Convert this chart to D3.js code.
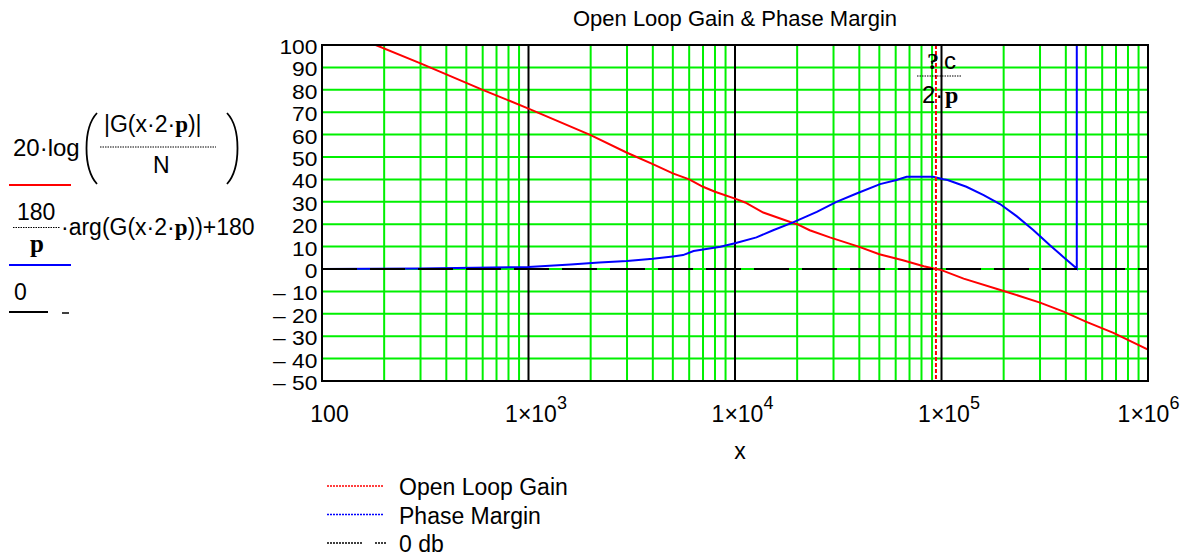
<!DOCTYPE html>
<html><head><meta charset="utf-8">
<script src="https://cdn.jsdelivr.net/npm/d3@7"></script>
<style>
html,body{margin:0;padding:0;background:#fff;}
svg{display:block;font-family:"Liberation Sans",Arial,sans-serif;}
</style></head><body>
<svg id="chart" width="1192" height="558"></svg>
<script>
// Open-loop gain, 20*log(|G|/N) in dB, against frequency x in Hz
const gainFreq = [182, 300, 600, 1000, 2000, 3000, 4000, 5000, 6000, 7000, 8000, 10000, 11200, 13700, 18500, 20000, 23000, 28800, 40000, 50000, 65000, 82000, 94000, 100000, 128000, 200000, 300000, 390000, 500000, 680000, 1000000];
const gainDb   = [100, 91.8, 80, 71.6, 59.8, 51.9, 46.8, 42.7, 40, 36.7, 34.5, 31.4, 29.7, 25.2, 21.0, 20.0, 17.3, 14.1, 9.9, 6.6, 3.9, 1.25, 0, -0.5, -4.3, -9.8, -15, -19, -23.5, -28.5, -36];

// Phase margin, 180/pi*arg(G)+180 in degrees; wraps past +180 above ~452 kHz
const phaseFreq = [100, 300, 1000, 1600, 2200, 3000, 4000, 5000, 5600, 6300, 8500, 10000, 12700, 15300, 19100, 24900, 31000, 38800, 50400, 60600, 67800, 91000, 102000, 107000, 132000, 160000, 192000, 231000, 279000, 335000, 389000, 452000, 452000];
const phaseDeg  = [0, 0.2, 0.9, 2.0, 2.9, 3.6, 4.6, 5.6, 6.2, 8.0, 9.9, 11.5, 14.1, 17.3, 20.8, 25.5, 30, 33.7, 37.9, 39.7, 41.2, 41.2, 40.1, 39.7, 36.7, 33, 29, 23.6, 17.3, 10.6, 5.4, 0.2, 360];

// 0 dB reference trace
const zeroFreq = [100, 1000000];
const zeroDb   = [0, 0];

// gain crossover frequency, wc/(2*pi)
const crossoverFreq = 94000;

const yTicks = [100, 90, 80, 70, 60, 50, 40, 30, 20, 10, 0, -10, -20, -30, -40, -50];
const xTicks = [100, 1e3, 1e4, 1e5, 1e6];
const xTickBase = ["100", "1\u00d710", "1\u00d710", "1\u00d710", "1\u00d710"];
const xTickExp  = ["", "3", "4", "5", "6"];
const legendLabels = ["Open Loop Gain", "Phase Margin", "0 db"];
const legendColors = ["#ff0000", "#0000ff", "#000000"];

const svg = d3.select("#chart");
const L = 322, R = 1148, T = 45, B = 381;
const x = d3.scaleLog().domain([100, 1e6]).range([L, R]);
const y = d3.scaleLinear().domain([-50, 100]).range([B, T]);
const FS = 23;
const GREEN = "#00f000";

// title
svg.append("text").attr("x", (L + R) / 2).attr("y", 26)
  .attr("text-anchor", "middle").attr("font-size", 22).text("Open Loop Gain & Phase Margin");

// grid
const grid = svg.append("g");
const minorX = [];
for (let k = 2; k <= 5; k++) for (let m = 2; m <= 9; m++) minorX.push(m * Math.pow(10, k));
grid.selectAll("line.vx").data(minorX).join("line")
  .attr("x1", d => x(d)).attr("x2", d => x(d)).attr("y1", T).attr("y2", B)
  .attr("stroke", GREEN).attr("stroke-width", 2);
grid.selectAll("line.hy").data(yTicks.filter(v => v > -50 && v < 100)).join("line")
  .attr("x1", L).attr("x2", R).attr("y1", d => y(d)).attr("y2", d => y(d))
  .attr("stroke", GREEN).attr("stroke-width", 2);
grid.selectAll("line.dx").data([1e3, 1e4, 1e5]).join("line")
  .attr("x1", d => x(d)).attr("x2", d => x(d)).attr("y1", T).attr("y2", B)
  .attr("stroke", "#000").attr("stroke-width", 2);

// clip for traces
svg.append("clipPath").attr("id", "plotClip").append("rect")
  .attr("x", L).attr("y", T).attr("width", R - L).attr("height", B - T);
const traces = svg.append("g").attr("clip-path", "url(#plotClip)");
const line = d3.line().x(d => x(d[0])).y(d => y(d[1]));

traces.append("path").datum(d3.zip(gainFreq, gainDb))
  .attr("d", line).attr("fill", "none").attr("stroke", "#ff0000").attr("stroke-width", 2);
traces.append("path").datum(d3.zip(phaseFreq, phaseDeg))
  .attr("d", line).attr("fill", "none").attr("stroke", "#0000ff").attr("stroke-width", 2);
traces.append("path").datum(d3.zip(zeroFreq, zeroDb))
  .attr("d", line).attr("fill", "none").attr("stroke", "#000").attr("stroke-width", 2)
  .attr("stroke-dasharray", "35,13");

// crossover marker
traces.append("line")
  .attr("x1", x(crossoverFreq)).attr("x2", x(crossoverFreq)).attr("y1", T).attr("y2", B)
  .attr("stroke", "#ff0000").attr("stroke-width", 2).attr("stroke-dasharray", "4,2");

// frame
svg.append("rect").attr("x", L).attr("y", T).attr("width", R - L).attr("height", B - T)
  .attr("fill", "none").attr("stroke", "#000").attr("stroke-width", 2);

// y axis labels (slightly widened glyphs so the tight 10-unit steps stay legible)
const yAxis = svg.append("g").attr("transform", `translate(${L},0)`)
  .call(d3.axisLeft(y).tickValues(yTicks).tickSize(0).tickPadding(4)
    .tickFormat(v => v < 0 ? "\u2013 " + Math.abs(v) : String(v)));
yAxis.select(".domain").remove();
yAxis.selectAll("text").attr("font-size", 20).attr("font-family", "Liberation Sans, Arial, sans-serif")
  .attr("fill", "#000").attr("dy", "0.42em").attr("transform", "scale(1.14,1)");

// x axis labels
const xAxis = svg.append("g").attr("transform", `translate(0,${B})`)
  .call(d3.axisBottom(x).tickValues(xTicks).tickSize(0).tickFormat(() => ""));
xAxis.select(".domain").remove();
xAxis.selectAll(".tick text").each(function (d, i) {
  const t = d3.select(this).attr("font-size", FS).attr("font-family", "Liberation Sans, Arial, sans-serif")
    .attr("fill", "#000").attr("y", 41).attr("dy", 0)
    .attr("x", i === xTicks.length - 1 ? 0 : 7).attr("text-anchor", "middle");
  t.append("tspan").text(xTickBase[i]);
  if (xTickExp[i]) t.append("tspan").attr("dy", -13).attr("font-size", 18).text(xTickExp[i]);
});
svg.append("text").attr("x", (L + R) / 2 + 5).attr("y", 459).attr("text-anchor", "middle")
  .attr("font-size", FS).text("x");

// trace expressions on the left
const expr = svg.append("g").attr("font-size", FS).attr("fill", "#000");
const serifBold = t => t.attr("font-family", "Liberation Serif, Times New Roman, serif").attr("font-weight", "bold");

expr.append("text").attr("x", 13).attr("y", 156).attr("font-size", 24).text("20\u00b7log");
expr.append("path").attr("d", "M97 113 C83 128 83 168 97 184").attr("fill", "none").attr("stroke", "#000").attr("stroke-width", 1.8);
expr.append("path").attr("d", "M227 113 C241 128 241 168 227 184").attr("fill", "none").attr("stroke", "#000").attr("stroke-width", 1.8);
const num = expr.append("text").attr("x", 104).attr("y", 132);
num.append("tspan").text("|G(x\u00b72\u00b7");
serifBold(num.append("tspan")).text("p");
num.append("tspan").text(")|");
expr.append("line").attr("x1", 100).attr("x2", 216).attr("y1", 147).attr("y2", 147)
  .attr("stroke", "#000").attr("stroke-width", 1).attr("stroke-dasharray", "1.5,1");
expr.append("text").attr("x", 153).attr("y", 173).text("N");
expr.append("line").attr("x1", 9).attr("x2", 71).attr("y1", 185).attr("y2", 185)
  .attr("stroke", legendColors[0]).attr("stroke-width", 2);

expr.append("text").attr("x", 17).attr("y", 220).text("180");
expr.append("line").attr("x1", 13).attr("x2", 60).attr("y1", 227.5).attr("y2", 227.5)
  .attr("stroke", "#000").attr("stroke-width", 1).attr("stroke-dasharray", "1.5,1");
serifBold(expr.append("text").attr("x", 30).attr("y", 252).attr("font-size", 25)).text("p");
const ph = expr.append("text").attr("x", 61).attr("y", 235);
ph.append("tspan").text("\u00b7arg(G(x\u00b72\u00b7");
serifBold(ph.append("tspan")).text("p");
ph.append("tspan").text("))+180");
expr.append("line").attr("x1", 9).attr("x2", 71).attr("y1", 265).attr("y2", 265)
  .attr("stroke", legendColors[1]).attr("stroke-width", 2);

expr.append("text").attr("x", 14).attr("y", 300).text("0");
expr.append("line").attr("x1", 9).attr("x2", 48).attr("y1", 312).attr("y2", 312)
  .attr("stroke", "#000").attr("stroke-width", 2);
expr.append("line").attr("x1", 62).attr("x2", 69).attr("y1", 313).attr("y2", 313)
  .attr("stroke", "#000").attr("stroke-width", 1.5);

// marker label wc/(2 pi)
const mk = svg.append("g").attr("font-size", 24).attr("fill", "#000");
serifBold(mk.append("text").attr("x", 927).attr("y", 69)).text("?");
mk.append("text").attr("x", 944).attr("y", 69).text("c");
mk.append("line").attr("x1", 917).attr("x2", 962).attr("y1", 76).attr("y2", 76)
  .attr("stroke", "#000").attr("stroke-width", 1).attr("stroke-dasharray", "1.5,1");
mk.append("text").attr("x", 922).attr("y", 103).text("2\u00b7");
serifBold(mk.append("text").attr("x", 945).attr("y", 103)).text("p");

// legend below the plot
const lg = svg.append("g").attr("font-size", FS);
legendLabels.forEach((lab, i) => {
  const ly = 486 + i * 28.5;
  if (i < 2) {
    lg.append("line").attr("x1", 327).attr("x2", 384).attr("y1", ly).attr("y2", ly)
      .attr("stroke", legendColors[i]).attr("stroke-width", 1.5).attr("stroke-dasharray", "2,1");
  } else {
    lg.append("line").attr("x1", 327).attr("x2", 363).attr("y1", ly).attr("y2", ly)
      .attr("stroke", "#000").attr("stroke-width", 1.5).attr("stroke-dasharray", "2,1");
    lg.append("line").attr("x1", 375).attr("x2", 386).attr("y1", ly).attr("y2", ly)
      .attr("stroke", "#000").attr("stroke-width", 1.5).attr("stroke-dasharray", "2,1");
  }
  lg.append("text").attr("x", 399).attr("y", ly + 9).text(lab);
});
</script>
</body></html>
